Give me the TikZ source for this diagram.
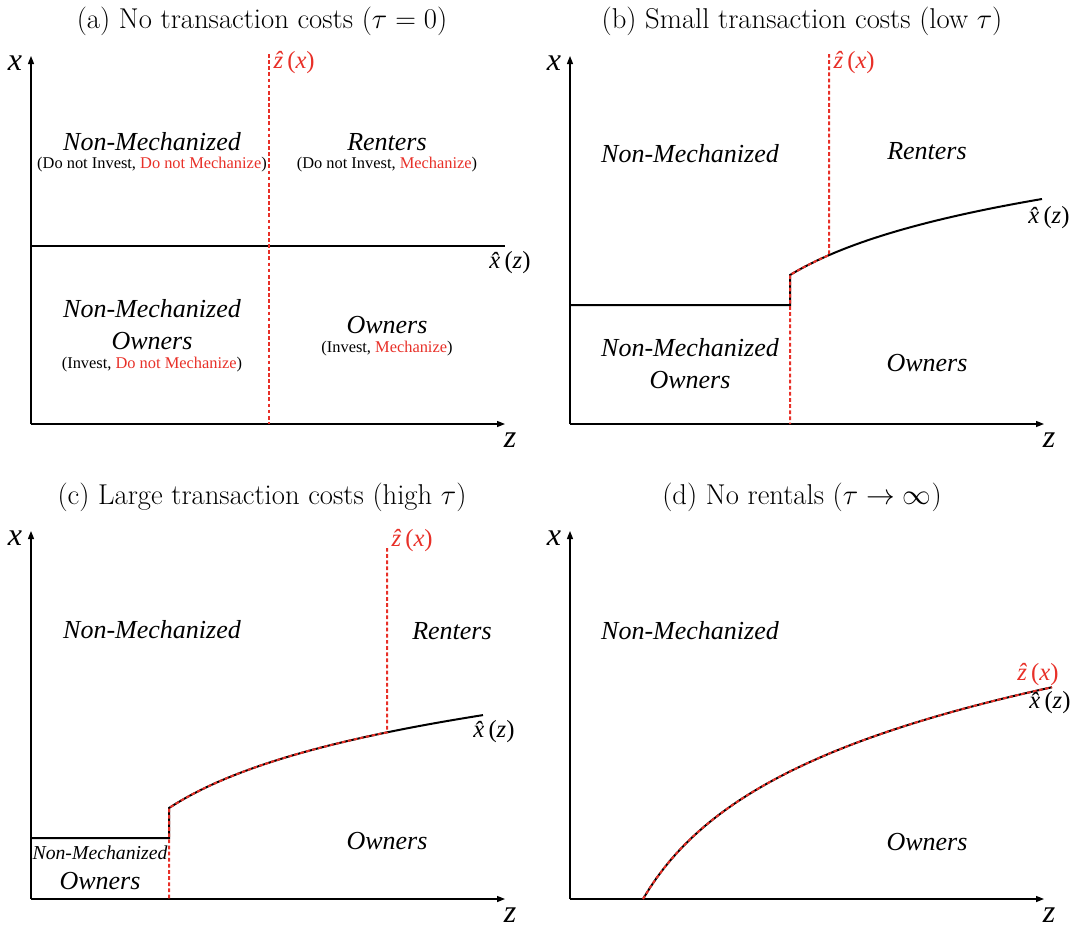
\RequirePackage{fix-cm}
\documentclass[tikz,border=0pt]{standalone}
\usepackage{fontspec}
\newfontfamily\tnr{Liberation Serif}[ItalicFont={Liberation Serif Italic}]
\usetikzlibrary{arrows.meta,calc}

\definecolor{zred}{RGB}{232,48,40}

\tikzset{
  axis/.style={line width=1pt,-{Triangle[length=6pt,width=4.5pt]}},
  bound/.style={line width=1.5pt},
  zline/.style={zred,line width=1.5pt,dash pattern=on 2.8pt off 1.8pt},
  title/.style={font=\fontsize{21.5}{25}\selectfont},
  region/.style={font=\fontsize{19.5}{22}\selectfont\tnr\itshape},
  smallregion/.style={font=\fontsize{14.8}{17}\selectfont\tnr\itshape},
  note/.style={font=\fontsize{12.3}{14}\selectfont\tnr},
  axlabel/.style={font=\fontsize{24}{26}\selectfont\tnr\itshape},
  hatlabel/.style={font=\fontsize{18.5}{20}\selectfont\tnr\itshape,inner sep=1pt}
}

\newcommand{\zhat}{\^{z}\,{\upshape(}x{\upshape)}}
\newcommand{\xhat}{\^{x}\,{\upshape(}z{\upshape)}}

\begin{document}
\begin{tikzpicture}[x=0.75pt,y=-0.75pt]
\useasboundingbox (0,0) rectangle (1076,929);

% panel titles
\node[title] (ta) at (262,21) {(a) No transaction costs ($\tau=0$)};
\node[title] (tb) at (802,21) {(b) Small transaction costs (low $\tau$)};
\node[title] (tc) at (262,497) {(c) Large transaction costs (high $\tau$)};
\node[title] (td) at (802,497) {(d) No rentals ($\tau\to\infty$)};

% axes of the four panels
\foreach \ox/\oy/\n in {31/424/a, 570/424/b, 31/899/c, 570/899/d} {
  \coordinate (o\n) at (\ox,\oy);
  \draw[axis] (o\n) -- ++(0,-368);
  \draw[axis] (o\n) -- ++(474,0);
  \node[axlabel] (x\n) at ($(o\n)+(-16,-361)$) {x};
  \node[axlabel] (z\n) at ($(o\n)+(479,16)$) {z};
}

% (a)
\draw[bound] (31,246) -- (505,246);
\draw[zline] (269,54) -- (269,424);
\node[hatlabel,zred,anchor=west] (zha) at (272,63) {\zhat};
\node[hatlabel] (xha) at (510,263) {\xhat};
\node[region] (a1) at (152,142) {Non-Mechanized};
\node[note] (a1n) at (152,165) {(Do not Invest, \textcolor{zred}{Do not Mechanize})};
\node[region] (a2) at (387,142) {Renters};
\node[note] (a2n) at (387,165) {(Do not Invest, \textcolor{zred}{Mechanize})};
\node[region] (a3) at (152,309) {Non-Mechanized};
\node[region] (a3b) at (152,341) {Owners};
\node[note] (a3n) at (152,365) {(Invest, \textcolor{zred}{Do not Mechanize})};
\node[region] (a4) at (387,325) {Owners};
\node[note] (a4n) at (387,349) {(Invest, \textcolor{zred}{Mechanize})};

% (b)
\draw[bound] (570,305) -- (790,305) -- (790,275)
  -- plot[domain=0:252,samples=40] ({790+\x},{275-60.4*ln(1+\x/100)});
\draw[zline] (829,54) -- (829,{275-60.4*ln(1.39)})
  -- plot[domain=39:0,samples=8] ({790+\x},{275-60.4*ln(1+\x/100)}) -- (790,424);
\node[hatlabel,zred,anchor=west] (zhb) at (832,63) {\zhat};
\node[hatlabel] (xhb) at (1049,218) {\xhat};
\node[region] (b1) at (690,154) {Non-Mechanized};
\node[region] (b2) at (927,151) {Renters};
\node[region] (b3) at (690,348) {Non-Mechanized};
\node[region] (b3b) at (690,380) {Owners};
\node[region] (b4) at (927,363) {Owners};

% (c)
\draw[bound] (31,838) -- (169,838) -- (169,808)
  -- plot[domain=0:314,samples=40] ({169+\x},{808-65.4*ln(1+\x/100)});
\draw[zline] (387,548) -- (387,{808-65.4*ln(3.18)})
  -- plot[domain=218:0,samples=20] ({169+\x},{808-65.4*ln(1+\x/100)}) -- (169,899);
\node[hatlabel,zred,anchor=west] (zhc) at (390,541) {\zhat};
\node[hatlabel] (xhc) at (494,732) {\xhat};
\node[region] (c1) at (152,630) {Non-Mechanized};
\node[region] (c2) at (452,631) {Renters};
\node[smallregion] (c3) at (100,853) {Non-Mechanized};
\node[region] (c3b) at (100,881) {Owners};
\node[region] (c4) at (387,841) {Owners};

% (d)
\draw[bound] plot[domain=0:409,samples=60] ({643+\x},{899-103*ln(1+\x/60)});
\draw[zline] plot[domain=0:409,samples=60] ({643+\x},{899-103*ln(1+\x/60)});
\node[hatlabel,zred] (zhd) at (1038,675) {\zhat};
\node[hatlabel] (xhd) at (1050,703) {\xhat};
\node[region] (d1) at (690,631) {Non-Mechanized};
\node[region] (d4) at (927,842) {Owners};
\end{tikzpicture}
\end{document}
